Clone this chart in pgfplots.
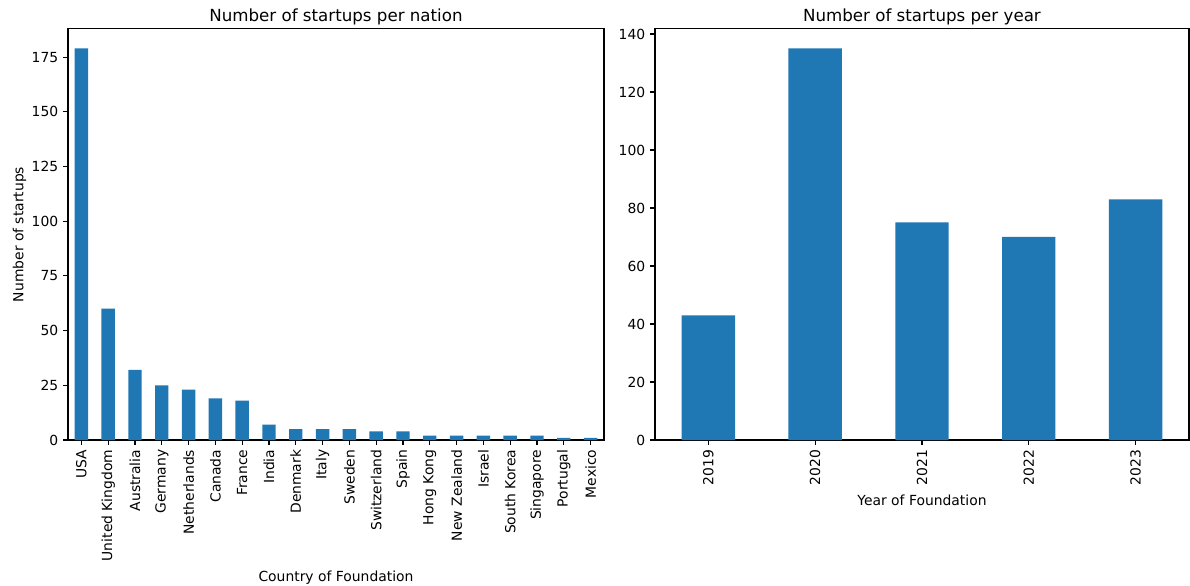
\documentclass[border=0pt]{standalone}
\usepackage{pgfplots}
\pgfplotsset{compat=1.18}
\usepackage{fontspec}
\setmainfont{DejaVu Sans}
\definecolor{tabblue}{HTML}{1F77B4}
\begin{document}
\begin{tikzpicture}
\path[use as bounding box] (-48.96pt,-104.4pt) rectangle (807.84pt,316.8pt);
\pgfplotsset{
  every axis/.append style={
    scale only axis,
    font=\fontsize{10}{12}\selectfont,
    tick label style={font=\fontsize{10}{12}\selectfont},
    title style={font=\fontsize{12}{14}\selectfont, yshift=-6.5pt},
    /pgf/number format/assume math mode=true,
    tick align=outside,
    major tick length=3.5pt,
    tick style={black, line width=0.8pt},
    axis line style={line width=0.8pt},
    ymin=0,
    xtick=data,
    x tick label style={rotate=90, anchor=east},
    ytick pos=left, xtick pos=bottom,
  }
}
\begin{axis}[
  at={(0pt,0pt)}, anchor=south west,
  width=385.9pt, height=296pt,
  title={Number of startups per nation},
  ylabel={Number of startups},
  ylabel shift={-3pt},
  xlabel={Country of Foundation},
  xmin=-0.5, xmax=19.5, ymax=187.9,
  ytick={0,25,50,75,100,125,150,175},
  xticklabels={USA,United Kingdom,Australia,Germany,Netherlands,Canada,France,India,Denmark,Italy,Sweden,Switzerland,Spain,Hong Kong,New Zealand,Israel,South Korea,Singapore,Portugal,Mexico},
]
\addplot[ybar, bar width=0.5, fill=tabblue, draw=none] coordinates {
(0,179) (1,60) (2,32) (3,25) (4,23) (5,19) (6,18) (7,7) (8,5) (9,5) (10,5) (11,4) (12,4) (13,2) (14,2) (15,2) (16,2) (17,2) (18,1) (19,1)};
\end{axis}
\begin{axis}[
  at={(422.6pt,0pt)}, anchor=south west,
  width=384.5pt, height=296pt,
  title={Number of startups per year},
  xlabel={Year of Foundation},
  xmin=-0.5, xmax=4.5, ymax=141.75,
  ytick={0,20,40,60,80,100,120,140},
  xticklabels={2019,2020,2021,2022,2023},
]
\addplot[ybar, bar width=0.5, fill=tabblue, draw=none] coordinates {
(0,43) (1,135) (2,75) (3,70) (4,83)};
\end{axis}
\end{tikzpicture}
\end{document}
